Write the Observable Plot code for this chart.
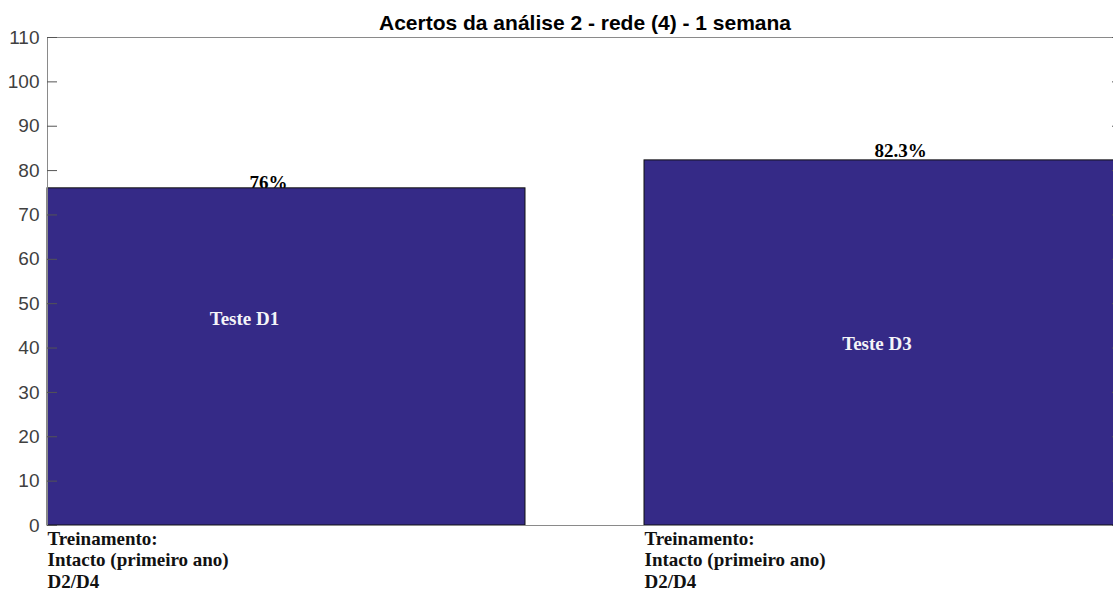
<!DOCTYPE html>
<html>
<head>
<meta charset="utf-8">
<script src="https://cdn.jsdelivr.net/npm/d3@7"></script>
<script src="https://cdn.jsdelivr.net/npm/@observablehq/plot@0.6"></script>
<style>
  html, body { margin: 0; padding: 0; background: #fff; overflow: hidden; }
  #chart { width: 1113px; height: 592px; overflow: hidden; }
  #chart svg { max-width: none !important; }
</style>
</head>
<body>
<div id="chart"></div>
<script>
const title = "Acertos da análise 2 - rede (4) - 1 semana";
const categories = ["D1", "D3"];
const values = [76, 82.3];
const valueLabels = ["76%", "82.3%"];
const innerLabels = ["Teste D1", "Teste D3"];
const xTickLabels = [
  "Treinamento:\nIntacto (primeiro ano)\nD2/D4",
  "Treinamento:\nIntacto (primeiro ano)\nD2/D4"
];
const yTicks = [0, 10, 20, 30, 40, 50, 60, 70, 80, 90, 100, 110];

const data = categories.map((c, i) => ({
  cat: c, value: values[i], vlabel: valueLabels[i], inner: innerLabels[i], tick: xTickLabels[i]
}));

const serif = "'Liberation Serif', 'Times New Roman', serif";
const axisColor = "#8a8a8a";

const chart = Plot.plot({
  width: 1122,
  height: 592,
  marginLeft: 47,
  marginRight: 0,
  marginTop: 37,
  marginBottom: 67,
  style: { fontFamily: "'Liberation Sans', Arial, sans-serif", background: "#fff", overflow: "visible", maxWidth: "none" },
  x: { type: "band", domain: categories, paddingInner: 0.2, paddingOuter: 0, axis: null },
  y: { domain: [0, 110], axis: null },
  marks: [
    // value labels (drawn under the bars, like the reference)
    Plot.text(data.filter((d, i) => i === 0), {
      x: "cat", y: "value", text: "vlabel", lineAnchor: "bottom",
      dx: -18, dy: 1, fontFamily: serif, fontWeight: "bold", fontSize: 19, fill: "#000"
    }),
    Plot.text(data.filter((d, i) => i === 1), {
      x: "cat", y: "value", text: "vlabel", lineAnchor: "bottom",
      dx: 17, dy: -3, fontFamily: serif, fontWeight: "bold", fontSize: 19, fill: "#000"
    }),
    Plot.barY(data, { x: "cat", y: "value", fill: "#352a87", stroke: "#111", strokeWidth: 1 }),
    // inner labels
    Plot.text(data.filter((d, i) => i === 0), {
      x: "cat", y: "value", text: "inner", lineAnchor: "bottom",
      dx: -42, dy: 137, fontFamily: serif, fontWeight: "bold", fontSize: 19, fill: "#f4f4f8"
    }),
    Plot.text(data.filter((d, i) => i === 1), {
      x: "cat", y: "value", text: "inner", lineAnchor: "bottom",
      dx: -6.5, dy: 190, fontFamily: serif, fontWeight: "bold", fontSize: 19, fill: "#f4f4f8"
    }),
    Plot.frame({ stroke: axisColor, strokeWidth: 1 }),
    // inward ticks on left and right sides
    Plot.ruleY(yTicks, { y: d => d, insetRight: 1065, stroke: "#555", strokeWidth: 1 }),
    Plot.ruleY(yTicks, { y: d => d, insetLeft: 1065, stroke: "#555", strokeWidth: 1 }),
    Plot.axisY({ ticks: yTicks, tickSize: 0, tickPadding: 8, fontSize: 19, fill: "#404040", label: null, tickFormat: d => String(d) }),
    // category labels below the axis
    Plot.text(data, {
      x: "cat", y: 0, text: "tick", textAnchor: "start", lineAnchor: "top",
      dx: -239, dy: 3.5, lineHeight: 1.15, fontFamily: serif, fontWeight: "bold", fontSize: 19, fill: "#111"
    }),
    // title
    Plot.text([title], {
      frameAnchor: "top", text: d => d, lineAnchor: "bottom", dy: -8,
      fontWeight: "bold", fontSize: 21, fill: "#000"
    })
  ]
});

document.getElementById("chart").appendChild(chart);
</script>
</body>
</html>
